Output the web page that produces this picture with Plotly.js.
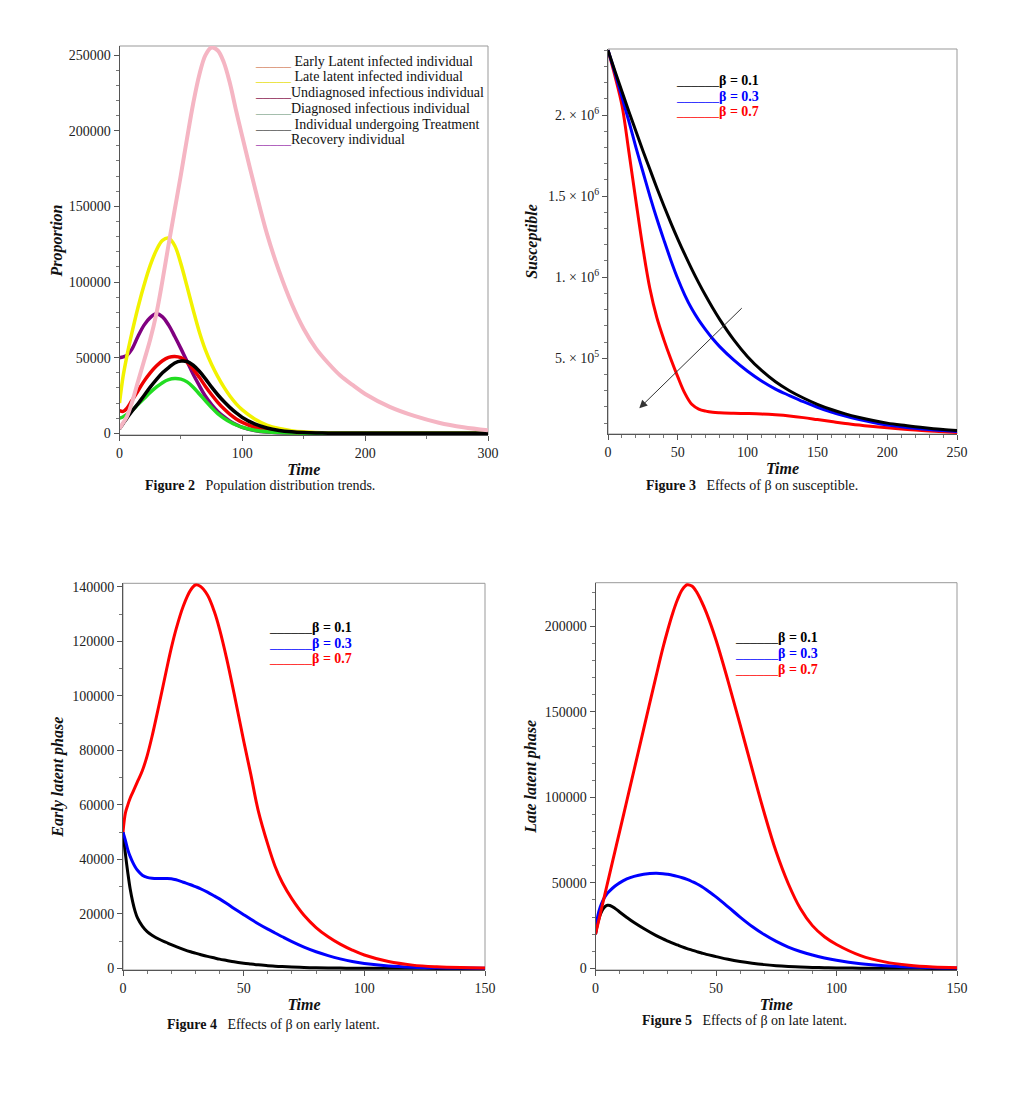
<!DOCTYPE html>
<html>
<head>
<meta charset="utf-8">
<script src="https://cdn.plot.ly/plotly-3.0.1.min.js"></script>
<style>
  html, body { margin: 0; padding: 0; background: #ffffff; }
  #chart { width: 1017px; height: 1096px; }
</style>
</head>
<body>
<div id="chart"></div>
<script>
// ---------- Figure 2: population distribution trends ----------
const fig2Time = [0,3,6,10,15,20,25,30,35,40,45,50,55,60,65,70,75,80,85,90,95,100,110,120,130,140,150,160,170,180,190,200,220,240,260,280,300];
const fig2EarlyLatent = [50000,50500,51500,55500,64000,71500,76500,79000,77000,71500,64000,56000,47500,39000,31500,24500,19000,14500,11000,8000,5800,4000,1900,800,350,150,70,30,10,0,0,0,0,0,0,0,0];
const fig2LateLatent = [20000,38000,51000,66000,83000,98000,111000,121000,127500,129000,124000,112000,97000,81500,67000,55000,45500,37500,30500,24500,19500,15500,9500,5500,3200,1800,1000,600,350,200,120,80,30,10,0,0,0];
const fig2Undiagnosed = [15000,14500,16500,21500,28000,34500,40000,44500,48000,50200,50800,50000,47000,42500,37000,31000,25500,20500,16200,12500,9500,7200,4000,2200,1100,550,270,120,50,20,0,0,0,0,0,0,0];
const fig2Diagnosed = [10000,11000,12500,15000,19000,23000,27000,30500,33500,35500,36200,35800,34000,30500,26000,21500,17000,13000,10000,7500,5500,4000,2000,1000,500,250,120,50,20,0,0,0,0,0,0,0,0];
const fig2Treatment = [3000,6500,10000,14500,19500,25000,30500,35500,40000,43500,46500,47800,47500,45000,41000,36000,30500,25500,21000,17000,13500,10500,6200,3500,1900,1000,500,250,120,60,30,15,0,0,0,0,0];
const fig2Recovery = [3000,7000,11000,20000,34000,48000,62000,79000,101000,125000,148000,171000,195000,218000,237000,250000,255000,253000,245000,231000,213000,196000,163000,132000,107000,86000,69000,56000,46300,38000,31800,26000,17500,11500,7000,4000,2000];
const fig2Legend = [
  'Early Latent infected individual',
  'Late latent infected individual',
  'Undiagnosed infectious individual',
  'Diagnosed infectious individual',
  'Individual undergoing Treatment',
  'Recovery individual'
];

// ---------- Figure 3: susceptible for three values of beta ----------
const fig3Time = [0,5,10,15,20,25,30,35,40,45,50,55,60,65,70,75,80,90,100,110,120,130,140,150,160,170,180,190,200,210,220,230,240,250];
const fig3Beta01 = [2400000,2270000,2145000,2020000,1900000,1780000,1665000,1550000,1440000,1335000,1235000,1140000,1050000,965000,885000,810000,740000,615000,510000,425000,355000,300000,255000,216000,184000,157000,135000,116000,100000,88000,78000,69000,61000,55000];
const fig3Beta03 = [2400000,2260000,2110000,1960000,1800000,1650000,1500000,1360000,1230000,1105000,990000,890000,805000,735000,675000,620000,572000,490000,420000,360000,310000,270000,232000,198000,168000,143000,122000,104000,89000,78000,68000,60000,54000,49000];
const fig3Beta07 = [2400000,2240000,2060000,1770000,1470000,1180000,930000,750000,615000,495000,385000,285000,216000,187000,174000,167000,164000,161000,159000,156000,151000,144000,134000,122000,110000,98000,88000,79000,71000,64000,58000,52000,47000,43000];
const fig3TickVals = [500000, 1000000, 1500000, 2000000];
const fig3TickText = ['5. \u00d7 10<sup>5</sup>', '1. \u00d7 10<sup>6</sup>', '1.5 \u00d7 10<sup>6</sup>', '2. \u00d7 10<sup>6</sup>'];
// direction of increasing beta: [x, y] of tail and head in data units
const fig3ArrowTail = [96.9, 818000];
const fig3ArrowHead = [22.4, 191700];

// ---------- Figure 4: early latent phase ----------
const fig4Time = [0,1,2,3,4,5,6,8,10,12,15,18,20,22,25,28,30,32,35,38,40,43,46,50,53,56,60,63,66,70,75,80,85,90,95,100,110,120,130,140,150];
const fig4Beta01 = [50000,42000,35000,29000,24500,21000,18500,15500,13500,12200,10700,9500,8700,8000,7000,6100,5600,5100,4400,3800,3400,2900,2400,1900,1600,1300,1000,800,650,480,330,220,150,100,70,50,25,12,6,3,0];
const fig4Beta03 = [50000,47000,43500,41000,39000,37300,36000,34200,33400,33100,33000,33000,32900,32500,31600,30700,30000,29300,28000,26500,25500,23800,22000,19700,18000,16400,14400,13000,11600,9800,7800,6100,4700,3500,2500,1800,900,450,220,110,60];
const fig4Beta07 = [50000,57000,60000,62500,64500,66500,68500,72500,78000,85000,97000,109500,117500,124500,133000,138800,140700,140200,137000,130500,124500,113500,101000,83500,71000,58000,45500,37500,31500,25500,19500,15000,11600,8900,6700,4900,2500,1200,600,300,150];

// ---------- Figure 5: late latent phase ----------
const fig5Time = [0,1,2,3,4,5,6,8,10,13,16,20,25,28,30,32,34,36,38,40,42,44,46,50,55,60,65,70,75,80,85,90,95,100,110,120,130,140,150];
const fig5Beta01 = [20000,27000,31500,34500,36200,36900,36800,35200,33000,29800,26800,23300,19300,17200,16000,14800,13700,12600,11600,10700,9800,9000,8200,6900,5300,4000,3000,2200,1600,1150,800,560,390,270,130,60,25,10,0];
const fig5Beta03 = [20000,31000,36000,39500,42000,44000,45500,48000,50000,52300,53800,55000,55600,55400,55000,54500,53800,53000,52000,50800,49500,47900,46000,41800,36000,30000,24500,19800,15800,12500,9900,7800,6100,4700,2700,1500,800,400,200];
const fig5Beta07 = [20000,26000,32000,38000,44000,50000,56000,68000,80000,98000,116000,140000,170000,187500,198000,207500,215500,221500,224300,223500,220000,214500,208000,192000,168000,142500,116500,91000,68000,49500,35000,25000,18500,14000,7500,3800,1800,800,400];

const betaLabels = ['\u03b2 = 0.1', '\u03b2 = 0.3', '\u03b2 = 0.7'];
const betaColors = ['#000000', '#0000ff', '#ff0000'];

// ---------- styling ----------
const W = 1017, H = 1096;
const serif = '"Liberation Serif", "Times New Roman", Times, serif';
const px = p => p / W;          // horizontal pixel -> paper
const py = p => 1 - p / H;      // vertical pixel -> paper

function line(x, y, color, width, xa, ya) {
  return {
    type: 'scatter', mode: 'lines', x: x, y: y, xaxis: xa, yaxis: ya,
    line: { color: color, width: width, shape: 'spline', smoothing: 1 },
    showlegend: false, hoverinfo: 'x+y'
  };
}

function axis(domainPx, range, anchor, dtick, minorDtick, titleText, standoff, vertical) {
  const dom = vertical ? [py(domainPx[1]), py(domainPx[0])] : [px(domainPx[0]), px(domainPx[1])];
  return {
    domain: dom, range: range, anchor: anchor,
    showline: true, linecolor: '#555', linewidth: 1, mirror: false,
    showgrid: false, zeroline: false,
    ticks: 'outside', ticklen: 5, tickwidth: 1, tickcolor: '#555',
    tickmode: 'linear', dtick: dtick, tick0: 0, tickformat: 'd',
    minor: { ticks: 'outside', ticklen: 3, tickwidth: 1, tickcolor: '#777', tickmode: 'linear', dtick: minorDtick, tick0: 0, showgrid: false },
    tickfont: { family: serif, size: 14, color: '#222' },
    title: { text: '<b><i>' + titleText + '</i></b>', font: { family: serif, size: 16, color: '#111' }, standoff: standoff },
    fixedrange: true
  };
}

const traces = [
  line(fig2Time, fig2EarlyLatent, '#800080', 3.5, 'x', 'y'),
  line(fig2Time, fig2LateLatent, '#f2f200', 3.5, 'x', 'y'),
  line(fig2Time, fig2Undiagnosed, '#ee0000', 3.5, 'x', 'y'),
  line(fig2Time, fig2Diagnosed, '#22dd22', 3.5, 'x', 'y'),
  line(fig2Time, fig2Treatment, '#000000', 3.5, 'x', 'y'),
  line(fig2Time, fig2Recovery, '#f5b5c3', 4, 'x', 'y'),

  line(fig3Time, fig3Beta07, betaColors[2], 3, 'x2', 'y2'),
  line(fig3Time, fig3Beta03, betaColors[1], 3, 'x2', 'y2'),
  line(fig3Time, fig3Beta01, betaColors[0], 3, 'x2', 'y2'),

  line(fig4Time, fig4Beta01, betaColors[0], 3, 'x3', 'y3'),
  line(fig4Time, fig4Beta03, betaColors[1], 3, 'x3', 'y3'),
  line(fig4Time, fig4Beta07, betaColors[2], 3, 'x3', 'y3'),

  line(fig5Time, fig5Beta01, betaColors[0], 3, 'x4', 'y4'),
  line(fig5Time, fig5Beta03, betaColors[1], 3, 'x4', 'y4'),
  line(fig5Time, fig5Beta07, betaColors[2], 3, 'x4', 'y4')
];

const yaxis2 = axis([49, 434], [33000, 2407000], 'x2', null, 100000, 'Susceptible', 6, true);
yaxis2.tickmode = 'array';
yaxis2.tickvals = fig3TickVals;
yaxis2.ticktext = fig3TickText;
delete yaxis2.dtick;
delete yaxis2.tickformat;

const layout = {
  width: W, height: H,
  margin: { l: 0, r: 0, t: 0, b: 0 },
  paper_bgcolor: '#ffffff', plot_bgcolor: '#ffffff',
  showlegend: false,
  font: { family: serif, color: '#111' },

  xaxis:  axis([119.5, 488], [0, 300], 'y', 100, 50, 'Time', 4, false),
  yaxis:  axis([46, 435], [-1100, 256000], 'x', 50000, 10000, 'Proportion', 2, true),

  xaxis2: axis([608, 957], [0, 250], 'y2', 50, 10, 'Time', 4, false),
  yaxis2: yaxis2,

  xaxis3: axis([123, 485], [0, 150], 'y3', 50, 10, 'Time', 4, false),
  yaxis3: axis([583.3, 970], [-590, 141300], 'x3', 20000, 10000, 'Early latent phase', 4, true),

  xaxis4: axis([595.5, 957], [0, 150], 'y4', 50, 10, 'Time', 4, false),
  yaxis4: axis([582.7, 970], [-940, 225500], 'x4', 50000, 10000, 'Late latent phase', 4, true),

  shapes: ['', '2', '3', '4'].map(s => ({
    type: 'rect', xref: 'x' + s + ' domain', yref: 'y' + s + ' domain',
    x0: 0, x1: 1, y0: 0, y1: 1, layer: 'below',
    line: { color: '#999', width: 1 }, fillcolor: 'rgba(0,0,0,0)'
  })),

  annotations: []
};

const ann = layout.annotations;

// legend of Figure 2: coloured rule followed by the label
const fig2RuleColors = ['#d98a6a', '#e8e020', '#8b2252', '#8fb09a', '#555555', '#a040b0'];
const fig2Spacer = [' ', ' ', '', '', ' ', ''];
const fig2LegendY = [61.7, 76.7, 92.7, 108.3, 124, 139.3];
fig2Legend.forEach((t, i) => {
  ann.push({
    xref: 'paper', yref: 'paper', x: px(253), y: py(fig2LegendY[i]),
    xanchor: 'left', yanchor: 'middle', showarrow: false,
    text: '<span style="color:' + fig2RuleColors[i] + '">_____</span>' + fig2Spacer[i] + t,
    font: { family: serif, size: 14, color: '#111' }
  });
});

// beta legends of Figures 3-5
function betaLegend(leftPx, ys) {
  betaLabels.forEach((t, i) => {
    ann.push({
      xref: 'paper', yref: 'paper', x: px(leftPx), y: py(ys[i]),
      xanchor: 'left', yanchor: 'middle', showarrow: false,
      text: '______<b>' + t + '</b>',
      font: { family: serif, size: 14, color: betaColors[i] }
    });
  });
}
betaLegend(674, [80, 96, 111.7]);
betaLegend(267, [627.7, 643.3, 658.3]);
betaLegend(733, [637.7, 653.3, 669]);

// arrow showing increasing beta
ann.push({
  xref: 'x2', yref: 'y2', axref: 'x2', ayref: 'y2',
  x: fig3ArrowHead[0], y: fig3ArrowHead[1], ax: fig3ArrowTail[0], ay: fig3ArrowTail[1],
  text: '', showarrow: true, arrowhead: 2, arrowsize: 1.6, arrowwidth: 1, arrowcolor: '#333'
});

// figure captions
const captions = [
  ['Figure 2', 'Population distribution trends.', 260, 486],
  ['Figure 3', 'Effects of \u03b2 on susceptible.', 752, 486],
  ['Figure 4', 'Effects of \u03b2 on early latent.', 273, 1024],
  ['Figure 5', 'Effects of \u03b2 on late latent.', 744, 1020]
];
captions.forEach(c => {
  ann.push({
    xref: 'paper', yref: 'paper', x: px(c[2]), y: py(c[3]),
    xanchor: 'center', yanchor: 'middle', showarrow: false,
    text: '<b>' + c[0] + '</b>\u00a0\u00a0\u00a0' + c[1],
    font: { family: serif, size: 14, color: '#111' }
  });
});

Plotly.newPlot('chart', traces, layout, { displayModeBar: false, staticPlot: true });
</script>
</body>
</html>
